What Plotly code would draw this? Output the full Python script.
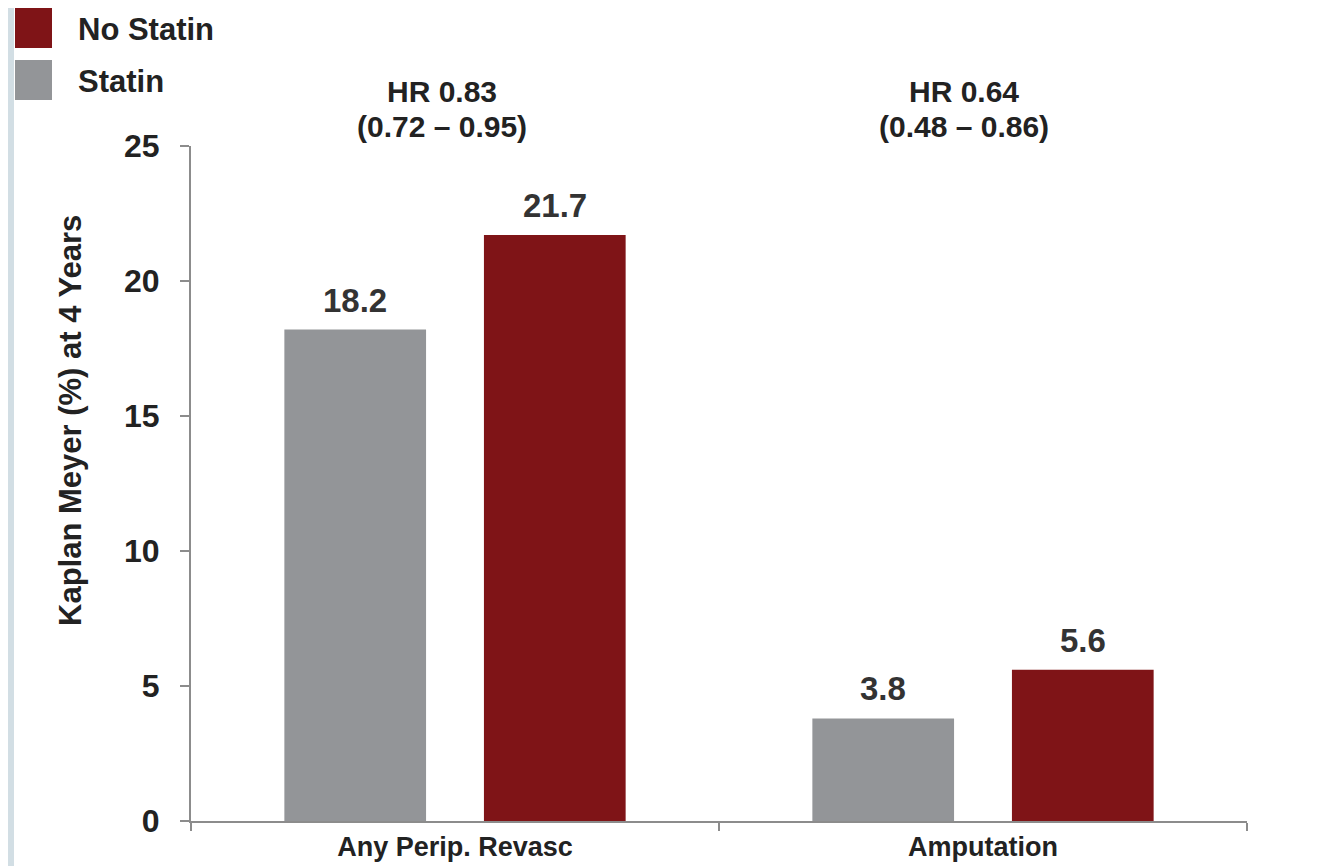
import plotly.graph_objects as go

categories = ["Any Perip. Revasc", "Amputation"]
statin = [18.2, 3.8]
no_statin = [21.7, 5.6]
hr_line1 = ["HR 0.83", "HR 0.64"]
hr_line2 = ["(0.72 – 0.95)", "(0.48 – 0.86)"]
y_ticks = [0, 5, 10, 15, 20, 25]

# page has an 8px body margin; plot area pinned at page x 190..1246, y 146..821
OFF = 8
W, H = 1320 - OFF, 866 - OFF
PX0, PX1, PY0, PY1 = 191, 1247, 146, 821
L, T = PX0 - OFF, PY0 - OFF
PW, PH = PX1 - PX0, PY1 - PY0
R, B = W - L - PW, H - T - PH


def px(x):  # page x -> paper
    return (x - PX0) / PW


def py(y):  # page y -> paper
    return (PY1 - y) / PH


GRAY = "#939598"
RED = "#7f1417"
TXT = "#222222"
FONT = "Liberation Sans"

fig = go.Figure()
fig.add_trace(go.Bar(name="Statin", x=categories, y=statin, marker_color=GRAY,
                     marker_line_width=0, showlegend=False))
fig.add_trace(go.Bar(name="No Statin", x=categories, y=no_statin, marker_color=RED,
                     marker_line_width=0, showlegend=False))

bargap, bargroupgap = 0.244, 0.29
slot_px = PW / len(categories) * (1 - bargap) / 2

# value labels above bars
for vals, sgn in [(statin, -1), (no_statin, 1)]:
    for cat, v in zip(categories, vals):
        fig.add_annotation(x=cat, y=v, text=f"{v:.1f}", showarrow=False,
                           xshift=sgn * slot_px / 2, yanchor="bottom", yshift=9,
                           font=dict(size=33, family=FONT, weight="bold", color="#333333"))

fig.update_layout(
    width=W, height=H,
    margin=dict(l=L, r=R, t=T, b=B, pad=0, autoexpand=False),
    paper_bgcolor="white", plot_bgcolor="white",
    barmode="group", bargap=bargap, bargroupgap=bargroupgap,
    font=dict(family=FONT, color=TXT),
)
fig.update_yaxes(
    range=[0, 25], tickvals=y_ticks, showgrid=False, zeroline=False,
    showline=True, linecolor="#8c8c8c", linewidth=2, automargin=False,
    ticks="outside", ticklen=9, tickcolor="#8c8c8c", tickwidth=1.5,
    ticklabelstandoff=14,
    tickfont=dict(size=32, family=FONT, weight="bold", color=TXT),
)
fig.update_xaxes(
    showgrid=False, showline=True, linecolor="#8c8c8c", linewidth=2, automargin=False,
    ticks="outside", tickson="boundaries", ticklen=8, tickcolor="#8c8c8c", tickwidth=1.5,
    ticklabelstandoff=1,
    tickfont=dict(size=27, family=FONT, weight="bold", color=TXT),
)

# y-axis title
fig.add_annotation(xref="paper", yref="paper", x=px(70), y=py(421), textangle=-90,
                   text="Kaplan Meyer (%) at 4 Years", showarrow=False,
                   xanchor="center", yanchor="middle",
                   font=dict(size=31, family=FONT, weight="bold", color=TXT))

# HR annotations
for cat, l1, l2, shift in zip(categories, hr_line1, hr_line2, [-13, -19]):
    for txt, yy in [(l1, 91), (l2, 127)]:
        fig.add_annotation(x=cat, y=py(yy), yref="paper", text=txt, showarrow=False,
                           xshift=shift, yanchor="middle", align="center",
                           font=dict(size=30, family=FONT, weight="bold", color=TXT))

# custom legend
legend_items = [("No Statin", RED, 8, 48), ("Statin", GRAY, 60, 100)]
for name, col, y0, y1 in legend_items:
    fig.add_shape(type="rect", xref="paper", yref="paper",
                  x0=px(15), x1=px(52), y0=py(y1), y1=py(y0),
                  fillcolor=col, line=dict(width=0))
    fig.add_annotation(xref="paper", yref="paper", x=px(76), y=py((y0 + y1) / 2 + 2),
                       text=name, showarrow=False, xanchor="left", yanchor="middle",
                       font=dict(size=31, family=FONT, weight="bold", color=TXT))

# left decorative strip
fig.add_shape(type="rect", xref="paper", yref="paper", layer="below",
              x0=px(OFF), x1=px(14), y0=py(866), y1=py(OFF),
              fillcolor="#d2dee4", line=dict(width=0))

fig.write_html("out.html")
